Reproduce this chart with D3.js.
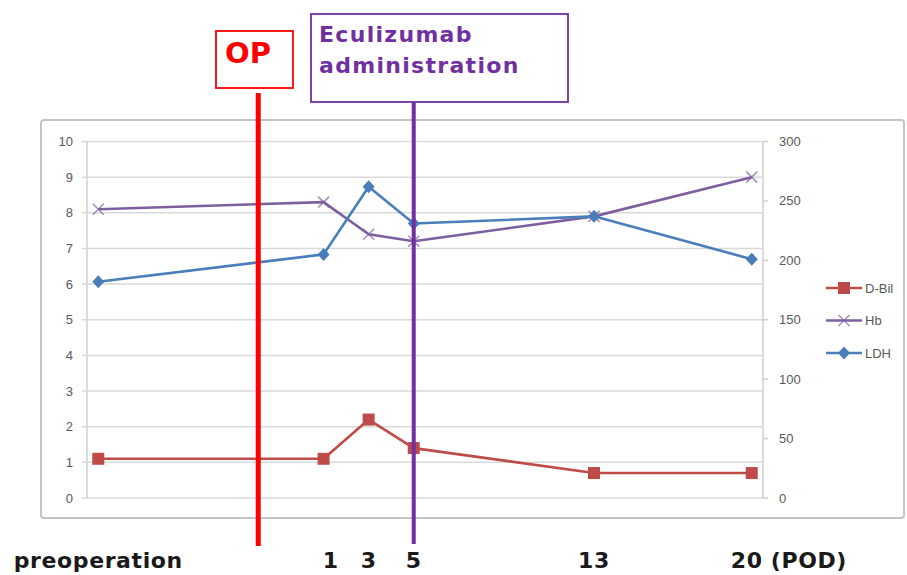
<!DOCTYPE html>
<html>
<head>
<meta charset="utf-8">
<script src="https://cdn.jsdelivr.net/npm/d3@7"></script>
<style>
  body { margin: 0; background: #fff; }
  svg { display: block; }
  .tick-label { font-family: "Liberation Sans", Arial, sans-serif; font-size: 13px; fill: #595959; }
  .big { font-family: "DejaVu Sans", Verdana, sans-serif; font-weight: bold; }
</style>
</head>
<body>
<script>
// days relative to operation (preoperation sample plotted on the date axis)
var days = [-9, 1, 3, 5, 13, 20];
var dayLabels = ["preoperation", "1", "3", "5", "13", "20 (POD)"];
var dBil = [1.1, 1.1, 2.2, 1.4, 0.7, 0.7];
var hb = [8.1, 8.3, 7.4, 7.2, 7.9, 9.0];
var ldh = [182, 205, 262, 231, 237, 201];
var leftTicks = [0, 1, 2, 3, 4, 5, 6, 7, 8, 9, 10];
var rightTicks = [0, 50, 100, 150, 200, 250, 300];
var opDay = -1.9;
var eculizumabDay = 5;

var width = 907, height = 575;

var svg = d3.select("body").append("svg")
  .attr("width", width)
  .attr("height", height);

var x = d3.scaleLinear().domain([-9.5, 20.5]).range([87, 763]);
var yL = d3.scaleLinear().domain([0, 10]).range([498, 141.5]);
var yR = d3.scaleLinear().domain([0, 300]).range([498, 141.5]);

// chart frame
svg.append("rect")
  .attr("x", 41).attr("y", 120)
  .attr("width", 863).attr("height", 398)
  .attr("rx", 3)
  .attr("fill", "#fff")
  .attr("stroke", "#c4c4c4")
  .attr("stroke-width", 2);

// grid lines
svg.selectAll(".grid")
  .data(leftTicks)
  .enter()
    .append("line")
      .attr("class", "grid")
      .attr("x1", 82)
      .attr("x2", x.range()[1])
      .attr("y1", function(d) { return yL(d); })
      .attr("y2", function(d) { return yL(d); })
      .attr("stroke", "#d9d9d9")
      .attr("stroke-width", 1.5);

// axis lines
svg.append("line")
  .attr("x1", x.range()[0]).attr("x2", x.range()[0])
  .attr("y1", yL(10)).attr("y2", yL(0))
  .attr("stroke", "#cfcfcf").attr("stroke-width", 1.5);
svg.append("line")
  .attr("x1", x.range()[1]).attr("x2", x.range()[1])
  .attr("y1", yR(300)).attr("y2", yR(0))
  .attr("stroke", "#cfcfcf").attr("stroke-width", 1.5);

svg.selectAll(".rtick")
  .data(rightTicks)
  .enter()
    .append("line")
      .attr("class", "rtick")
      .attr("x1", x.range()[1])
      .attr("x2", x.range()[1] + 5)
      .attr("y1", function(d) { return yR(d); })
      .attr("y2", function(d) { return yR(d); })
      .attr("stroke", "#cfcfcf")
      .attr("stroke-width", 1.5);

// tick labels
svg.selectAll(".ltxt")
  .data(leftTicks)
  .enter()
    .append("text")
      .attr("class", "tick-label")
      .attr("x", 73)
      .attr("y", function(d) { return yL(d) + 4.5; })
      .attr("text-anchor", "end")
      .text(function(d) { return d; });

svg.selectAll(".rtxt")
  .data(rightTicks)
  .enter()
    .append("text")
      .attr("class", "tick-label")
      .attr("x", 779)
      .attr("y", function(d) { return yR(d) + 4.5; })
      .text(function(d) { return d; });

var series = [
  {name: "D-Bil", color: "#be4b48", values: dBil, y: yL, marker: "square"},
  {name: "Hb", color: "#7d5fa0", values: hb, y: yL, marker: "x"},
  {name: "LDH", color: "#4a7ebb", values: ldh, y: yR, marker: "diamond"}
];

function drawMarker(g, s, cx, cy) {
  if (s.marker === "square") {
    g.append("rect")
      .attr("x", cx - 6).attr("y", cy - 6)
      .attr("width", 12).attr("height", 12)
      .attr("fill", s.color);
  } else if (s.marker === "diamond") {
    g.append("path")
      .attr("d", "M" + cx + "," + (cy - 6.5) + "L" + (cx + 6) + "," + cy +
                 "L" + cx + "," + (cy + 6.5) + "L" + (cx - 6) + "," + cy + "Z")
      .attr("fill", s.color);
  } else {
    g.append("path")
      .attr("d", "M" + (cx - 5.5) + "," + (cy - 5.5) + "L" + (cx + 5.5) + "," + (cy + 5.5) +
                 "M" + (cx - 5.5) + "," + (cy + 5.5) + "L" + (cx + 5.5) + "," + (cy - 5.5))
      .attr("stroke", s.color)
      .attr("stroke-opacity", 0.7)
      .attr("stroke-width", 1.5)
      .attr("fill", "none");
  }
}

series.forEach(function(s) {
  var line = d3.line()
    .x(function(d, i) { return x(days[i]); })
    .y(function(d) { return s.y(d); });

  var g = svg.append("g");
  g.append("path")
    .datum(s.values)
    .attr("d", line)
    .attr("fill", "none")
    .attr("stroke", s.color)
    .attr("stroke-width", 2.6)
    .attr("stroke-linejoin", "round");

  s.values.forEach(function(v, i) {
    drawMarker(g, s, x(days[i]), s.y(v));
  });
});

// legend
series.forEach(function(s, i) {
  var ly = 288 + i * 32.5;
  var g = svg.append("g");
  g.append("line")
    .attr("x1", 826).attr("x2", 862)
    .attr("y1", ly).attr("y2", ly)
    .attr("stroke", s.color)
    .attr("stroke-width", 2.6);
  drawMarker(g, s, 844, ly);
  g.append("text")
    .attr("class", "tick-label")
    .attr("x", 865)
    .attr("y", ly + 4.5)
    .text(s.name);
});

// event lines
svg.append("line")
  .attr("x1", x(opDay)).attr("x2", x(opDay))
  .attr("y1", 93).attr("y2", 546)
  .attr("stroke", "#ff0000")
  .attr("stroke-width", 5);

svg.append("line")
  .attr("x1", x(eculizumabDay)).attr("x2", x(eculizumabDay))
  .attr("y1", 93).attr("y2", 544)
  .attr("stroke", "#7030a0")
  .attr("stroke-width", 4);

// annotation boxes
svg.append("rect")
  .attr("x", 216).attr("y", 31)
  .attr("width", 77).attr("height", 57)
  .attr("fill", "#fff")
  .attr("stroke", "#ff0000")
  .attr("stroke-width", 1.8);
svg.append("text")
  .attr("class", "big")
  .attr("x", 225).attr("y", 63)
  .attr("font-size", 29)
  .attr("fill", "#ff0000")
  .text("OP");

svg.append("rect")
  .attr("x", 311).attr("y", 14)
  .attr("width", 257).attr("height", 88)
  .attr("fill", "#fff")
  .attr("stroke", "#7030a0")
  .attr("stroke-width", 1.8);
svg.append("text")
  .attr("class", "big")
  .attr("x", 319).attr("y", 42)
  .attr("font-size", 22)
  .attr("letter-spacing", 1.3)
  .attr("fill", "#7030a0")
  .text("Eculizumab");
svg.append("text")
  .attr("class", "big")
  .attr("x", 319).attr("y", 73)
  .attr("font-size", 22)
  .attr("letter-spacing", 1.3)
  .attr("fill", "#7030a0")
  .text("administration");

// day labels under the chart
svg.selectAll(".day")
  .data(dayLabels)
  .enter()
    .append("text")
      .attr("class", "big day")
      .attr("x", function(d, i) {
        if (i === dayLabels.length - 1) return x(days[i]) - 21;
        if (i === 1) return x(days[i]) + 7;
        return x(days[i]);
      })
      .attr("y", 568)
      .attr("font-size", 22)
      .attr("letter-spacing", 0.6)
      .attr("fill", "#1a1a1a")
      .attr("text-anchor", function(d, i) { return i === dayLabels.length - 1 ? "start" : "middle"; })
      .text(function(d) { return d; });
</script>
</body>
</html>
